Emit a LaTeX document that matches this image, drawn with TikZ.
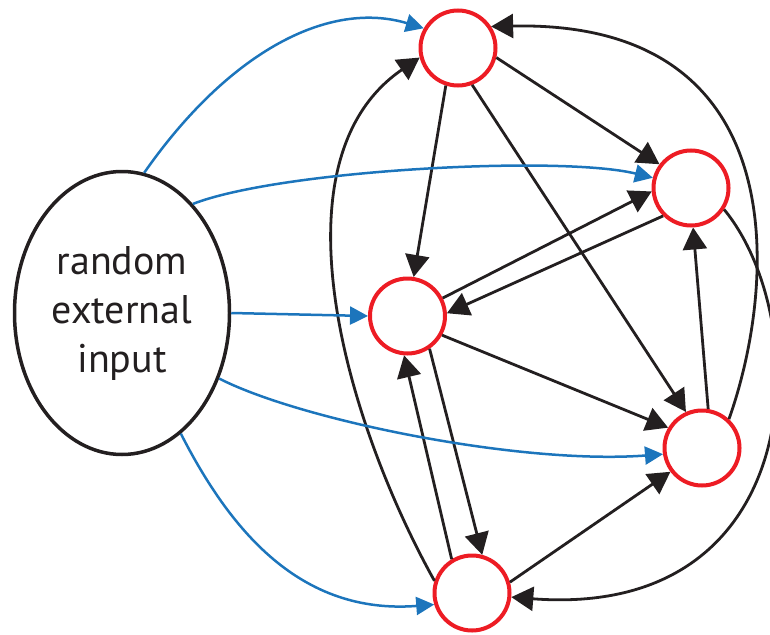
\documentclass[tikz,border=0pt]{standalone}
\usepackage{fontspec}
\setmainfont{PT Sans}
\usetikzlibrary{shapes.geometric,arrows.meta}
\definecolor{netred}{RGB}{237,28,36}
\definecolor{netblue}{RGB}{28,117,188}
\definecolor{inkblack}{RGB}{35,31,32}

\begin{document}
\begin{tikzpicture}[x=1pt, y=-1pt,
    neuron/.style={circle, draw=netred, line width=4pt, minimum size=75pt, inner sep=0pt},
    source/.style={ellipse, draw=inkblack, line width=3.5pt, minimum width=215pt, minimum height=283pt, align=center, font=\fontsize{40}{49}\selectfont, text=inkblack},
    link/.style={-{Triangle[length=22pt,width=24pt]}, line width=2.8pt, draw=inkblack},
    feed/.style={-{Triangle[length=18pt,width=18pt]}, line width=2.5pt, draw=netblue}
]
\useasboundingbox (0,0) rectangle (770,634);

% Network units
\node[neuron] (n1) at (458,48) {};
\node[neuron] (n2) at (691,188) {};
\node[neuron] (n3) at (407.5,316) {};
\node[neuron] (n4) at (702,448) {};
\node[neuron] (n5) at (472,593) {};

% External input
\node[source] (input) at (122,313) {random\\external\\input};

% Recurrent connections
\draw[link] (n1.346) -- (n2.143);
\draw[link] (n1.291) -- (n4.114);
\draw[link] (n1.252) -- (n3.81);
\draw[link] (n3.27) -- (n2.185);
\draw[link] (n2.225) -- (n3.4);
\draw[link] (n3.331) -- (n4.149);
\draw[link] (n3.304) -- (n5.75);
\draw[link] (n5.121) -- (n3.265);
\draw[link] (n5.16) -- (n4.217);
\draw[link] (n4.81) -- (n2.273);
\draw[link] (n5.162) .. controls (345,420) and (270,160) .. (n1.194);
\draw[link] (n4.47) .. controls (775,290) and (800,20) .. (n1.33);
\draw[link] (n2.327) .. controls (815,320) and (810,620) .. (n5.354);

% Input connections
\draw[feed] (input.81) .. controls (230,50) and (330,0) .. (n1.150);
\draw[feed] (input.57) .. controls (280,170) and (560,155) .. (n2.165);
\draw[feed] (input.0) -- (n3.180);
\draw[feed] (input.-34) .. controls (300,420) and (520,465) .. (n4.189);
\draw[feed] (input.-64) .. controls (230,530) and (300,615) .. (n5.197);

\end{tikzpicture}
\end{document}
